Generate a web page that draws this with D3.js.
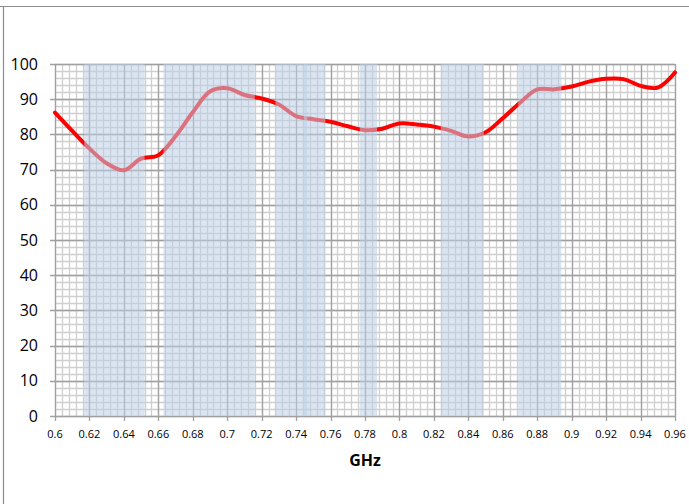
<!DOCTYPE html>
<html>
<head>
<meta charset="utf-8">
<script src="https://cdn.jsdelivr.net/npm/d3@7"></script>
<style>
  body { margin: 0; background: #fff; }
  text { font-family: "Open Sans", "Liberation Sans", sans-serif; fill: #000; }
</style>
</head>
<body>
<svg id="chart" width="689" height="504"></svg>
<script>
var freqs = [0.60, 0.61, 0.62, 0.63, 0.64, 0.65, 0.66, 0.67, 0.68, 0.69,
             0.70, 0.71, 0.72, 0.73, 0.74, 0.75, 0.76, 0.77, 0.78, 0.79,
             0.80, 0.81, 0.82, 0.83, 0.84, 0.85, 0.86, 0.87, 0.88, 0.89,
             0.90, 0.91, 0.92, 0.93, 0.94, 0.95, 0.96];
var values = [86.2, 81.0, 76.0, 71.8, 69.8, 73.1, 74.1, 79.5, 86.3, 92.2,
              93.1, 91.2, 90.2, 88.5, 85.2, 84.3, 83.6, 82.3, 81.2, 81.6,
              83.1, 82.8, 82.2, 81.0, 79.4, 80.6, 84.6, 89.0, 92.8, 92.8,
              93.6, 95.0, 95.8, 95.7, 93.8, 93.3, 97.6];

// shaded frequency bands [start, end] in GHz
var bandStart = [0.617, 0.663, 0.698, 0.728, 0.7445, 0.777, 0.824, 0.869];
var bandEnd   = [0.652, 0.698, 0.716, 0.7465, 0.757, 0.787, 0.849, 0.894];

var xTicks = [0.6, 0.62, 0.64, 0.66, 0.68, 0.7, 0.72, 0.74, 0.76, 0.78,
              0.8, 0.82, 0.84, 0.86, 0.88, 0.9, 0.92, 0.94, 0.96];
var yTicks = [0, 10, 20, 30, 40, 50, 60, 70, 80, 90, 100];
var xLabel = "GHz";

var svg = d3.select("#chart");

// outer frame (top and left edges)
svg.append("line").attr("x1", 0).attr("x2", 689).attr("y1", 6.5).attr("y2", 6.5)
  .attr("stroke", "#8c8c8c").attr("stroke-width", 1.2);
svg.append("line").attr("x1", 3.5).attr("x2", 3.5).attr("y1", 6.5).attr("y2", 504)
  .attr("stroke", "#8c8c8c").attr("stroke-width", 1.2);

var x = d3.scaleLinear().domain([0.6, 0.96]).range([55, 675]);
var y = d3.scaleLinear().domain([0, 100]).range([416, 64]);

// minor grid
var minorX = d3.range(0, 91).map(i => 0.6 + i * 0.004);
var minorY = d3.range(0, 51).map(i => i * 2);
var g = svg.append("g");
g.selectAll(".mx").data(minorX).enter().append("line")
  .attr("x1", d => Math.round(x(d)) + 0.5).attr("x2", d => Math.round(x(d)) + 0.5)
  .attr("y1", y(100)).attr("y2", y(0))
  .attr("stroke", "#cfcfcf").attr("stroke-width", 1.3);
g.selectAll(".my").data(minorY).enter().append("line")
  .attr("x1", x(0.6)).attr("x2", x(0.96))
  .attr("y1", d => Math.round(y(d)) + 0.5).attr("y2", d => Math.round(y(d)) + 0.5)
  .attr("stroke", "#cfcfcf").attr("stroke-width", 1.3);

// major grid
g.selectAll(".Mx").data(xTicks).enter().append("line")
  .attr("x1", d => Math.round(x(d)) + 0.5).attr("x2", d => Math.round(x(d)) + 0.5)
  .attr("y1", y(100)).attr("y2", y(0) + 5)
  .attr("stroke", "#a0a0a0").attr("stroke-width", 1.3);
g.selectAll(".My").data(yTicks).enter().append("line")
  .attr("x1", x(0.6) - 5).attr("x2", x(0.96))
  .attr("y1", d => Math.round(y(d)) + 0.5).attr("y2", d => Math.round(y(d)) + 0.5)
  .attr("stroke", "#a0a0a0").attr("stroke-width", 1.3);

// data line
var line = d3.line()
  .x((d, i) => x(freqs[i]))
  .y(d => y(d))
  .curve(d3.curveCatmullRom.alpha(0.5));
svg.append("path").datum(values)
  .attr("d", line)
  .attr("fill", "none")
  .attr("stroke", "#ff0000")
  .attr("stroke-width", 4)
  .attr("stroke-linecap", "round");

// bands drawn over the line, semi transparent
svg.selectAll(".band").data(bandStart).enter().append("rect")
  .attr("x", d => x(d))
  .attr("width", (d, i) => x(bandEnd[i]) - x(d))
  .attr("y", y(100))
  .attr("height", y(0) - y(100))
  .attr("fill", "rgb(190,208,232)")
  .attr("fill-opacity", 0.55);

// axis labels
svg.selectAll(".yl").data(yTicks).enter().append("text")
  .attr("x", 38).attr("y", d => y(d))
  .attr("dy", "0.35em")
  .attr("text-anchor", "end")
  .style("font-size", "16px")
  .text(d => d);

svg.selectAll(".xl").data(xTicks).enter().append("text")
  .attr("x", d => x(d)).attr("y", 438)
  .attr("text-anchor", "middle")
  .style("font-size", "11px")
  .text(d => d3.format("")(+d.toFixed(2)));

svg.append("text")
  .attr("x", (x(0.6) + x(0.96)) / 2).attr("y", 466)
  .attr("text-anchor", "middle")
  .style("font-size", "16px").style("font-weight", "bold")
  .text(xLabel);
</script>
</body>
</html>
